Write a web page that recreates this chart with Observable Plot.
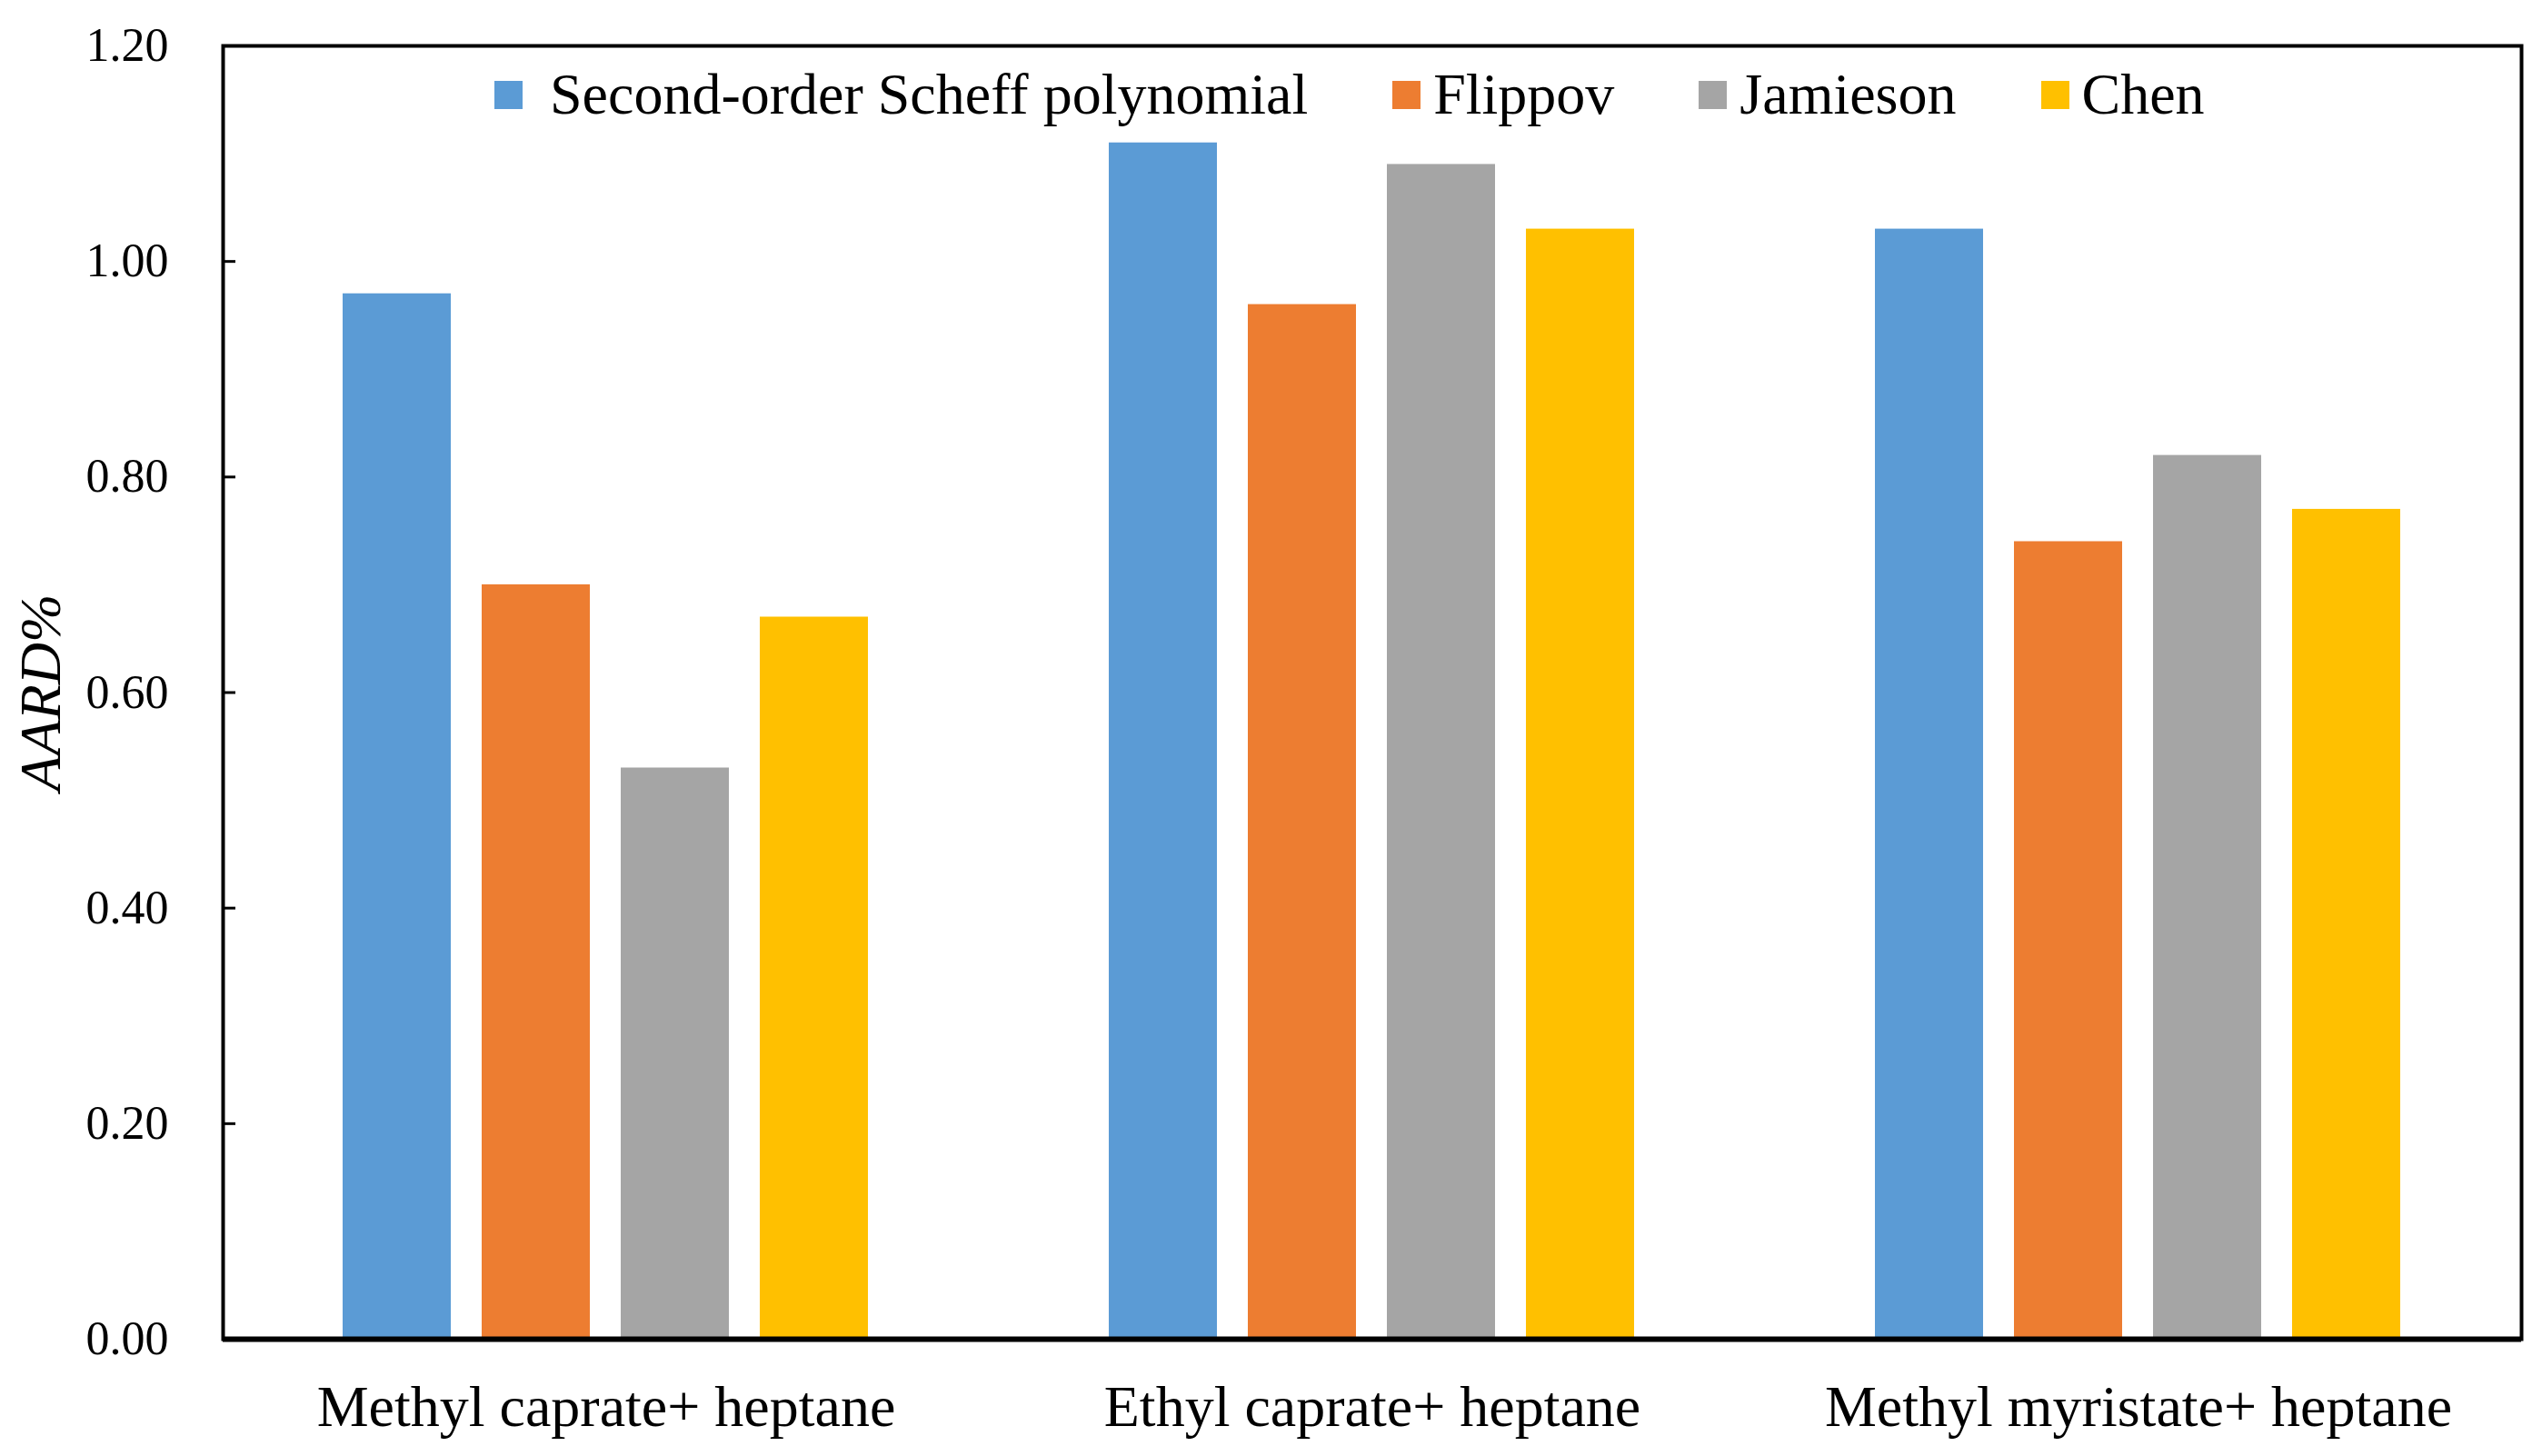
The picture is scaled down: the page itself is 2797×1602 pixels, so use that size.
<!DOCTYPE html>
<html><head><meta charset="utf-8">
<script src="https://cdn.jsdelivr.net/npm/d3@7"></script>
<script src="https://cdn.jsdelivr.net/npm/@observablehq/plot@0.6"></script>
<style>
html,body{margin:0;padding:0;background:#fff;overflow:hidden;}
#wrap{position:relative;width:2797px;height:1602px;font-family:"Liberation Serif","Times New Roman",serif;}
#legend{position:absolute;left:544px;top:72px;display:flex;align-items:center;font-size:64px;line-height:64px;color:#000;white-space:nowrap;}
.item{display:flex;align-items:center;margin-right:93px;}
.sw{width:31px;height:31px;flex:none;}
.lab{margin-left:14px;}
.item:first-child .lab{margin-left:30px;}
g[aria-label="y-axis label"]{font-style:italic;font-size:64px;}
</style></head><body><div id="wrap"></div>
<script>
const categories = ["Methyl caprate+ heptane", "Ethyl caprate+ heptane", "Methyl myristate+ heptane"];
const series = ["Second-order Scheff polynomial", "Flippov", "Jamieson", "Chen"];
const colors = ["#5B9BD5", "#ED7D31", "#A5A5A5", "#FFC000"];
const scheffValues = [0.97, 1.11, 1.03];
const flippovValues = [0.70, 0.96, 0.74];
const jamiesonValues = [0.53, 1.09, 0.82];
const chenValues = [0.67, 1.03, 0.77];
const yTicks = [0, 0.2, 0.4, 0.6, 0.8, 1.0, 1.2];
const yLabel = "AARD%";

const seriesValues = [scheffValues, flippovValues, jamiesonValues, chenValues];
const data = categories.flatMap((c, i) => series.map((s, j) => ({category: c, series: s, value: seriesValues[j][i]})));

const chart = Plot.plot({
  width: 2797, height: 1602,
  marginLeft: 244, marginRight: 23, marginTop: 50, marginBottom: 129,
  style: {fontFamily: "'Liberation Serif','Times New Roman',serif", background: "white", color: "black"},
  fx: {domain: categories, padding: 0, label: null},
  x: {domain: series, paddingInner: 0.22, paddingOuter: 0.857, axis: null},
  y: {domain: [0, 1.2]},
  color: {domain: series, range: colors},
  marks: [
    Plot.barY(data, {fx: "category", x: "series", y: "value", fill: "series"}),
    Plot.axisY({ticks: yTicks, tickSize: 0, tickPadding: 60, tickFormat: d => d.toFixed(2), fontSize: 52, label: yLabel, labelAnchor: "center", labelOffset: 225, labelArrow: "none"}),
    Plot.axisY({ticks: yTicks, tickSize: 14, dx: 14, tickFormat: () => "", strokeWidth: 3, label: null}),
    Plot.axisFx({anchor: "bottom", tickSize: 0, tickPadding: 50, fontSize: 64, label: null}),
    Plot.ruleY([0], {strokeWidth: 6}),
    Plot.frame({facet: "super", stroke: "black", strokeWidth: 4})
  ]
});
const wrap = document.getElementById("wrap");
wrap.appendChild(chart);
const legend = document.createElement("div");
legend.id = "legend";
series.forEach((s, i) => {
  const item = document.createElement("div");
  item.className = "item";
  const sw = document.createElement("div");
  sw.className = "sw";
  sw.style.background = colors[i];
  const lab = document.createElement("span");
  lab.className = "lab";
  lab.textContent = s;
  item.appendChild(sw); item.appendChild(lab);
  legend.appendChild(item);
});
wrap.appendChild(legend);
</script></body></html>
